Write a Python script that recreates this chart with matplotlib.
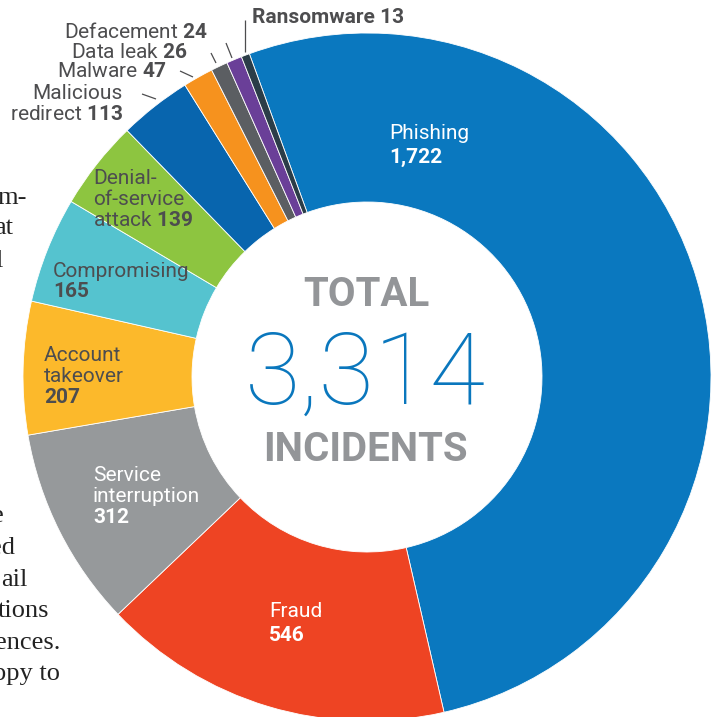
import matplotlib
matplotlib.use('Agg')
import matplotlib.pyplot as plt

plt.rcParams['mathtext.fontset'] = 'custom'
plt.rcParams['mathtext.rm'] = 'Roboto'
plt.rcParams['mathtext.bf'] = 'Roboto:bold'

categories = ['Phishing', 'Fraud', 'Service interruption', 'Account takeover',
              'Compromising', 'Denial-of-service attack', 'Malicious redirect',
              'Malware', 'Data leak', 'Defacement', 'Ransomware']
counts = [1722, 546, 312, 207, 165, 139, 113, 47, 26, 24, 13]
colors = ['#0a78bf', '#ee4423', '#96999b', '#fcb92b', '#55c3cf', '#8dc540',
          '#0865ae', '#f6921e', '#5b5e62', '#6a3f98', '#2b3d48']
total = sum(counts)

W, H = 715, 717
DARK = '#4d4d4f'


def Y(y):
    # layout positions are measured from the top edge
    return H - y


fig = plt.figure(figsize=(W / 100, H / 100), dpi=100)
ax = fig.add_axes([0, 0, 1, 1])

# article text peeking out from behind the graphic
body = [('m-', 27, 204), ('at', 13, 234), ('l', 3, 267), ('e', 4, 522),
        ('ed', 15, 554), ('ail', 28, 586), ('tions', 49, 617),
        ('ences.', 60, 649), ('ppy to', 60, 680)]
for txt, xe, yb in body:
    ax.text(xe, Y(yb), txt, ha='right', va='baseline', fontsize=19,
            family='Liberation Serif', color='#222222', zorder=0)

ax.pie(counts, colors=colors, startangle=110, counterclock=False,
       radius=344, center=(367, Y(377)),
       wedgeprops=dict(width=169, edgecolor='white', linewidth=0.6))
ax.set_xlim(0, W)
ax.set_ylim(0, H)
ax.set_aspect('auto')
ax.axis('off')


def label(x, y, s, color=DARK, ha='left', weight='normal'):
    ax.text(x, Y(y), s, ha=ha, va='baseline', fontsize=15, family='Roboto',
            color=color, fontweight=weight)


# labels inside the ring
label(389, 139, 'Phishing', 'white')
label(389, 163, '{:,}'.format(counts[0]), 'white', weight='bold')
label(269, 617, 'Fraud', 'white')
label(269, 641, str(counts[1]), 'white', weight='bold')
label(93, 481, 'Service', 'white')
label(93, 502, 'interruption', 'white')
label(93, 523, str(counts[2]), 'white', weight='bold')
label(44, 361, 'Account')
label(44, 382, 'takeover')
label(44, 403, str(counts[3]), weight='bold')
label(53, 277, 'Compromising')
label(53, 297, str(counts[4]), weight='bold')
label(93, 184, 'Denial-')
label(93, 205, 'of-service')
label(93, 226, r'attack $\mathbf{%d}$' % counts[5])

# small slices labelled outside with leader lines
label(123, 99, 'Malicious', ha='right')
label(123, 120, r'redirect $\mathbf{%d}$' % counts[6], ha='right')
label(167, 77, r'Malware $\mathbf{%d}$' % counts[7], ha='right')
label(188, 58, r'Data leak $\mathbf{%d}$' % counts[8], ha='right')
label(208, 38, r'Defacement $\mathbf{%d}$' % counts[9], ha='right')
label(252, 23, 'Ransomware %d' % counts[10], weight='bold')

leaders = [((142, 94), (156, 99)), ((180, 71), (193, 77)),
           ((211, 53), (216, 63)), ((226, 43), (232, 58)),
           ((245, 20), (245, 52))]
for (x0, y0), (x1, y1) in leaders:
    ax.plot([x0, x1], [Y(y0), Y(y1)], color=DARK, lw=0.9,
            solid_capstyle='butt')

# total in the hole
ax.text(366, Y(306), 'TOTAL', ha='center', va='baseline', fontsize=29,
        family='Roboto', fontweight='bold', color='#939598')
ax.text(365, Y(404), '{:,}'.format(total), ha='center', va='baseline',
        fontsize=73, family='Roboto', fontweight='light', color='#0a77bd')
ax.text(365, Y(461), 'INCIDENTS', ha='center', va='baseline', fontsize=29,
        family='Roboto', fontweight='bold', color='#939598')

fig.savefig('out.png', dpi=100)
